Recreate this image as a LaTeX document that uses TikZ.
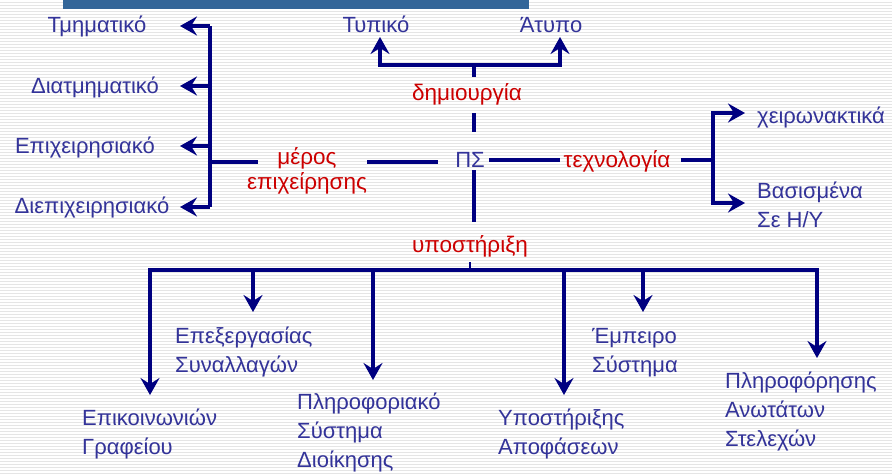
\documentclass[tikz,border=0pt]{standalone}
\usepackage{fontspec}
\setmainfont{Liberation Sans}
\usetikzlibrary{arrows.meta}
\definecolor{navy}{RGB}{0,0,128}
\definecolor{txtblue}{RGB}{51,51,153}
\definecolor{txtred}{RGB}{204,0,0}
\definecolor{barblue}{RGB}{51,102,153}
\tikzset{
  link/.style={draw=navy, line width=3.5pt},
  arr/.style={link, -{Stealth[length=17pt, width=19pt, inset=6pt]}},
  lbl/.style={text=txtblue, font=\fontsize{22}{29}\selectfont, inner sep=0pt},
  mlbl/.style={lbl, align=left, anchor=base west},
  cat/.style={text=txtred, font=\fontsize{22.5}{24.5}\selectfont, inner sep=0pt, align=center},
}
\begin{document}
\begin{tikzpicture}[x=1pt, y=-1pt]
  \useasboundingbox (0,0) rectangle (892,475);
  % striped slide background
  \fill[white] (0,0) rectangle (892,475);
  \foreach \yy in {2,5,...,475} \draw[black!10, line width=0.9pt] (0,\yy) -- (892,\yy);
  % title bar
  \fill[barblue] (63,0) rectangle (529,9);

  % centre and category labels
  \node[lbl, anchor=base] (ps) at (470,167) {ΠΣ};
  \node[cat, anchor=base] (dim) at (467,100) {δημιουργία};
  \node[cat, anchor=base] (tech) at (617,167) {τεχνολογία};
  \node[cat, anchor=base] (ypo) at (470,252) {υποστήριξη};
  \node[cat] (meros) at (307,171) {μέρος\\επιχείρησης};

  % part of the enterprise
  \node[lbl, anchor=base] (tm) at (97,32) {Τμηματικό};
  \node[lbl, anchor=base] (dtm) at (95,93) {Διατμηματικό};
  \node[lbl, anchor=base] (epx) at (85,153) {Επιχειρησιακό};
  \node[lbl, anchor=base] (dep) at (92,213) {Διεπιχειρησιακό};
  \coordinate (lTop) at (210,26);
  \coordinate (lBot) at (210,207);
  \coordinate (lMid) at (210,162);
  \coordinate (tTm) at (180,26);
  \coordinate (tDtm) at (180,86);
  \coordinate (tEpx) at (180,146);
  \coordinate (tDep) at (180,207);
  \coordinate (mL) at (258,162);
  \coordinate (mR) at (367,162);
  \coordinate (psL) at (438,162);
  \draw[link] (lTop) -- (lBot);
  \draw[arr] (lTop) -- (tTm);
  \draw[arr] (210,86) -- (tDtm);
  \draw[arr] (210,146) -- (tEpx);
  \draw[arr] (lBot) -- (tDep);
  \draw[link] (lMid) -- (mL);
  \draw[link] (mR) -- (psL);

  % creation
  \node[lbl, anchor=base] (typ) at (376,32) {Τυπικό};
  \node[lbl, anchor=base] (aty) at (551,32) {Άτυπο};
  \coordinate (jT) at (474,65);
  \coordinate (dTop) at (474,77);
  \coordinate (dBot) at (474,113);
  \coordinate (psT) at (474,132);
  \coordinate (tTyp) at (380,37);
  \coordinate (tAty) at (560,37);
  \draw[link] (jT) -- (dTop);
  \draw[link] (dBot) -- (psT);
  \draw[arr] (jT) -| (tTyp);
  \draw[arr] (jT) -| (tAty);

  % technology
  \node[lbl, anchor=base west] (xeir) at (757,123) {χειρωνακτικά};
  \node[mlbl] (bas) at (757,227) {Βασισμένα\\Σε Η/Υ};
  \coordinate (psR) at (489,160);
  \coordinate (tL) at (560,160);
  \coordinate (tR) at (681,160);
  \coordinate (jR) at (713,160);
  \coordinate (tXeir) at (745,113);
  \coordinate (tBas) at (745,203);
  \draw[link] (psR) -- (tL);
  \draw[link] (tR) -- (jR);
  \draw[arr] (jR) |- (tXeir);
  \draw[arr] (jR) |- (tBas);

  % support
  \coordinate (psB) at (474,170);
  \coordinate (yT) at (474,222);
  \coordinate (tick) at (470,262);
  \coordinate (jB) at (470,270);
  \draw[link] (psB) -- (yT);
  \draw[link, line width=2.5pt] (tick) -- (jB);
  \draw[link] (150,270) -- (817,270);
  \node[mlbl] (epik) at (82,454) {Επικοινωνιών\\Γραφείου};
  \node[mlbl] (epex) at (175,372) {Επεξεργασίας\\Συναλλαγών};
  \node[mlbl] (pld) at (297,467) {Πληροφοριακό\\Σύστημα\\Διοίκησης};
  \node[mlbl] (ypap) at (498,454) {Υποστήριξης\\Αποφάσεων};
  \node[mlbl] (emp) at (592,372) {Έμπειρο\\Σύστημα};
  \node[mlbl] (plan) at (725,446) {Πληροφόρησης\\Ανωτάτων\\Στελεχών};
  \coordinate (tEpik) at (150,395);
  \coordinate (tEpex) at (253,312);
  \coordinate (tPld) at (373,380);
  \coordinate (tYpap) at (564,395);
  \coordinate (tEmp) at (643,312);
  \coordinate (tPlan) at (817,358);
  \foreach \t in {tEpik,tEpex,tPld,tYpap,tEmp,tPlan}
    \draw[arr] (jB) -| (\t);
\end{tikzpicture}
\end{document}
